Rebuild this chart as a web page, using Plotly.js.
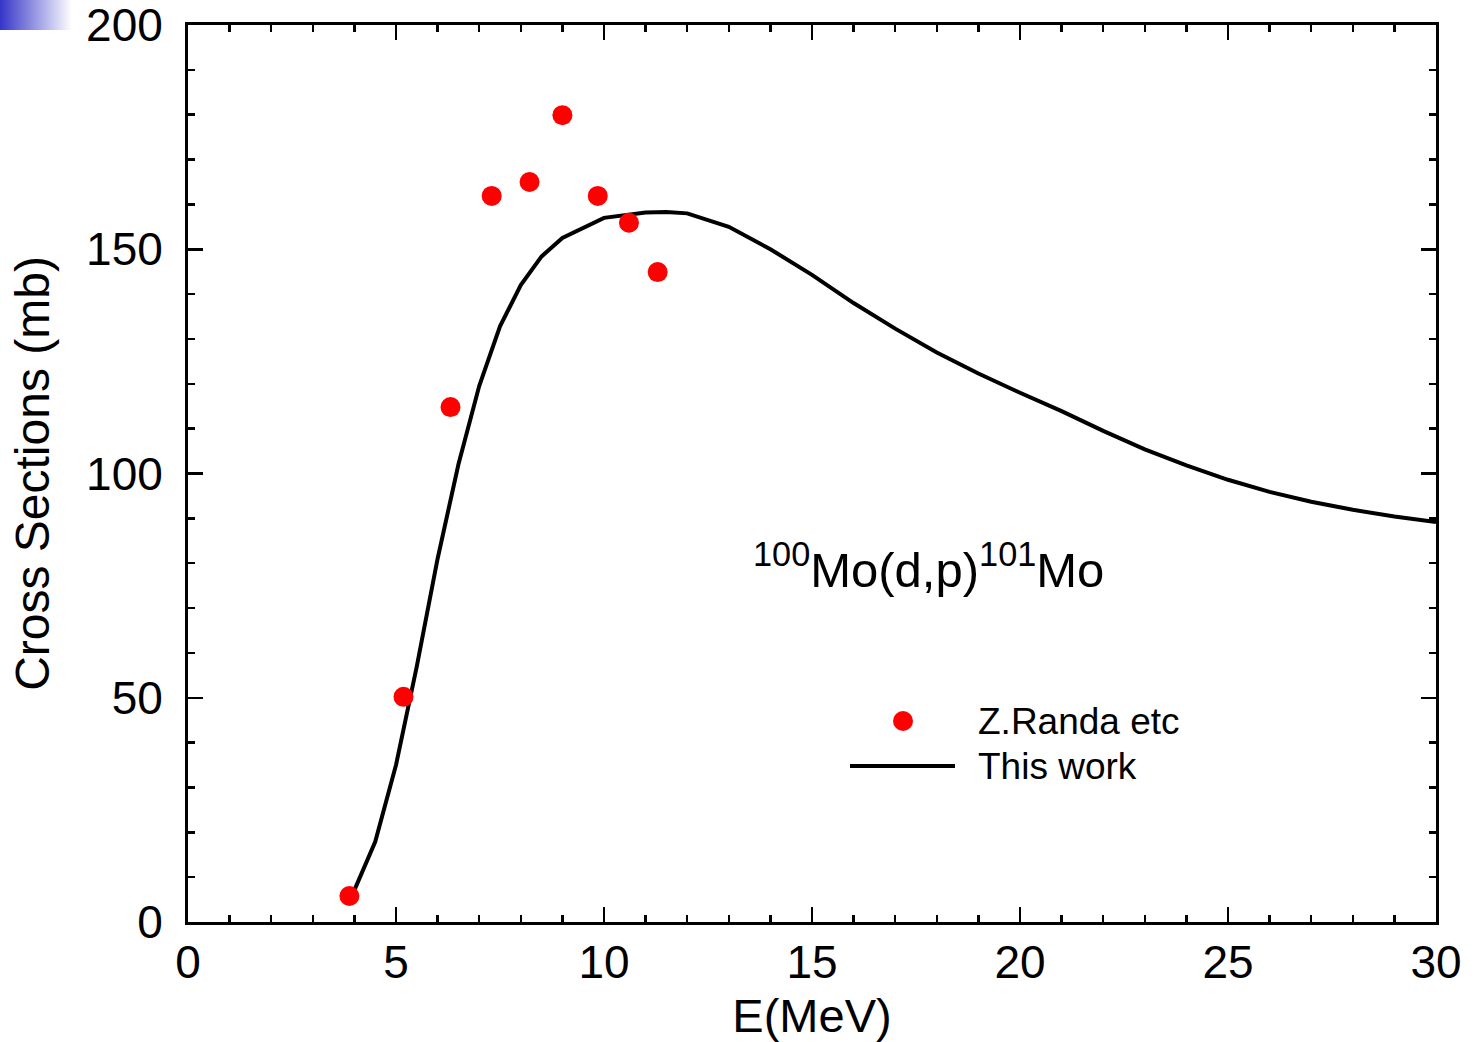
<!DOCTYPE html>
<html>
<head>
<meta charset="utf-8">
<script src="https://cdn.plot.ly/plotly-3.0.1.min.js"></script>
<style>
  html, body { margin: 0; padding: 0; background: #fff; }
  #wrap { position: relative; width: 1475px; height: 1042px; }
  #chart { width: 1475px; height: 1042px; }
  #corner {
    position: absolute; left: 0; top: 0; width: 72px; height: 30px;
    background: linear-gradient(to right, #3535c8, #ffffff);
    z-index: 2;
  }
</style>
</head>
<body>
<div id="wrap">
  <div id="corner"></div>
  <div id="chart"></div>
</div>
<script>
// Measured cross sections, 100Mo(d,p)101Mo (Z.Randa etc)
const expEnergy = [3.88, 5.18, 6.31, 7.30, 8.21, 9.00, 9.85, 10.60, 11.29];
const expSigma  = [5.8, 50.2, 114.8, 161.9, 165.0, 179.9, 161.9, 155.9, 144.9];

// Calculated excitation function (this work)
const calcEnergy = [4.0, 4.5, 5.0, 5.5, 6.0, 6.5, 7.0, 7.5, 8.0, 8.5, 9.0, 10.0, 11.0, 11.5, 12.0,
                    13, 14, 15, 16, 17, 18, 19, 20, 21, 22, 23, 24, 25, 26, 27, 28, 29, 30];
const calcSigma  = [7.1, 17.9, 35.0, 57.0, 81.0, 102.0, 119.5, 132.8, 142.0, 148.4, 152.5, 157.0, 158.2, 158.3, 158.0,
                    155.0, 150.0, 144.3, 138.0, 132.3, 127.0, 122.3, 118.0, 113.9, 109.5, 105.4, 101.8, 98.6, 95.9, 93.7, 91.9, 90.4, 89.2];

const xTicks = [0, 5, 10, 15, 20, 25, 30];
const yTicks = [0, 50, 100, 150, 200];

const legendNames = ['Z.Randa etc', 'This work'];
const reactionLabel = '<sup>100</sup>Mo(d,p)<sup>101</sup>Mo';

const FONT = 'Liberation Sans, Arial, Helvetica, sans-serif';

const traces = [
  {
    x: calcEnergy, y: calcSigma, type: 'scatter', mode: 'lines',
    name: legendNames[1],
    line: { color: '#000000', width: 4 },
    showlegend: false
  },
  {
    x: expEnergy, y: expSigma, type: 'scatter', mode: 'markers',
    name: legendNames[0],
    marker: { color: '#ff0000', size: 20, line: { width: 0 } },
    showlegend: false
  }
];

function axisCommon() {
  return {
    showgrid: false, zeroline: false,
    showline: true, linecolor: '#000', linewidth: 3,
    mirror: 'allticks',
    ticks: 'inside', ticklen: 15, tickwidth: 2.5, tickcolor: '#000',
    tickfont: { family: FONT, size: 46, color: '#000' },
    ticklabeloverflow: 'allow',
    fixedrange: true
  };
}

const xaxis = Object.assign(axisCommon(), {
  range: [0, 30], tickvals: xTicks, ticktext: xTicks.map(String),
  ticklabelstandoff: -2,
  minor: { dtick: 1, ticks: 'inside', ticklen: 7, tickwidth: 2.5, tickcolor: '#000', showgrid: false },
  title: { text: 'E(MeV)', font: { family: FONT, size: 47, color: '#000' }, standoff: 28 }
});

const yaxis = Object.assign(axisCommon(), {
  range: [0, 200], tickvals: yTicks, ticktext: yTicks.map(String),
  ticklabelstandoff: 13,
  minor: { dtick: 10, ticks: 'inside', ticklen: 7, tickwidth: 2.5, tickcolor: '#000', showgrid: false },
  title: { text: 'Cross Sections (mb)', font: { family: FONT, size: 48, color: '#000' }, standoff: 22 }
});

// Hand-placed legend (paper coordinates)
const W = 1248, H = 897;                 // plot area size in px
const px = v => (v - 188) / W;           // page px -> paper x
const py = v => (922 - v) / H;           // page px -> paper y

const layout = {
  width: 1475, height: 1042,
  margin: { l: 188, r: 39, t: 25, b: 120 },
  paper_bgcolor: '#fff', plot_bgcolor: '#fff',
  font: { family: FONT, color: '#000' },
  xaxis: xaxis, yaxis: yaxis,
  showlegend: false,
  shapes: [
    { type: 'circle', xref: 'paper', yref: 'paper',
      x0: px(893), x1: px(913), y0: py(731), y1: py(711),
      fillcolor: '#ff0000', line: { width: 0 } },
    { type: 'line', xref: 'paper', yref: 'paper',
      x0: px(850), x1: px(955), y0: py(766), y1: py(766),
      line: { color: '#000', width: 4 } }
  ],
  annotations: [
    { xref: 'paper', yref: 'paper', x: px(976), y: py(721), xanchor: 'left', yanchor: 'middle',
      text: legendNames[0], showarrow: false, font: { family: FONT, size: 37, color: '#000' } },
    { xref: 'paper', yref: 'paper', x: px(976), y: py(766), xanchor: 'left', yanchor: 'middle',
      text: legendNames[1], showarrow: false, font: { family: FONT, size: 37, color: '#000' } },
    { xref: 'paper', yref: 'paper', x: px(751), y: py(566), xanchor: 'left', yanchor: 'middle',
      text: reactionLabel, showarrow: false, font: { family: FONT, size: 49, color: '#000' } }
  ]
};

Plotly.newPlot('chart', traces, layout, { displayModeBar: false, staticPlot: true });
</script>
</body>
</html>
